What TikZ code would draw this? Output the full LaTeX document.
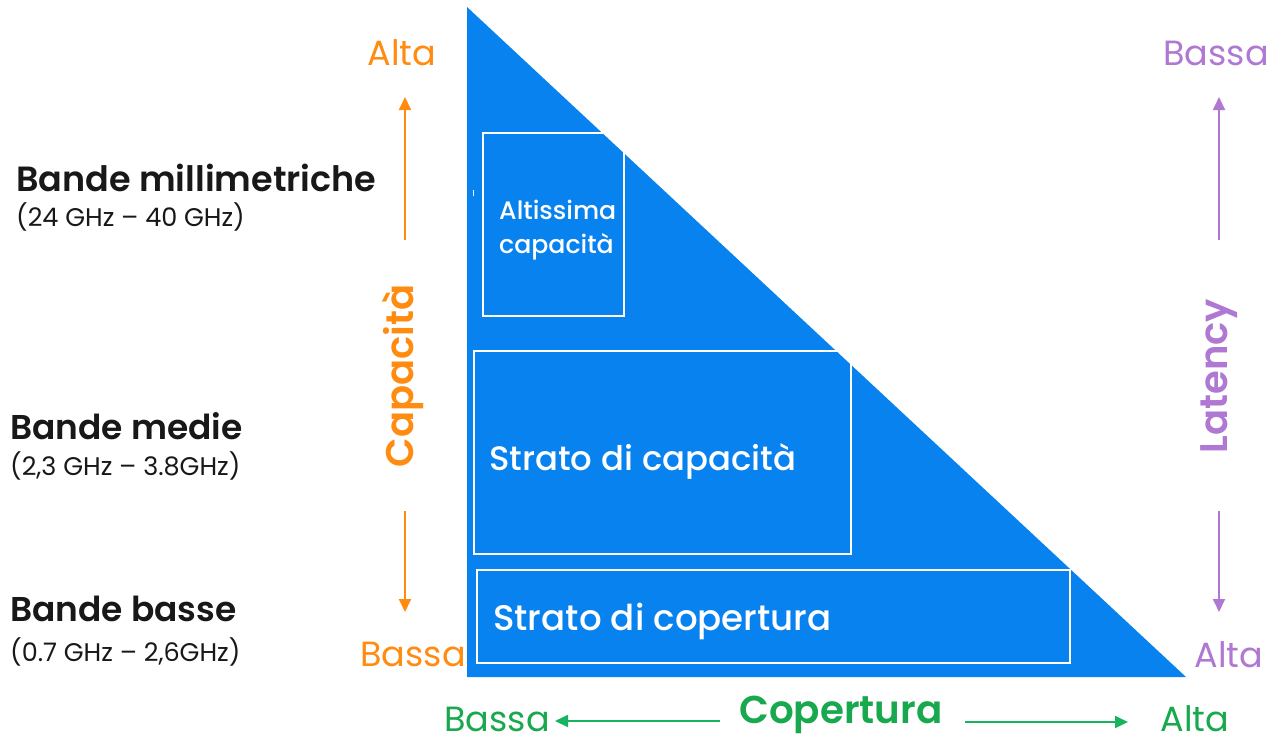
\documentclass[tikz,border=0pt]{standalone}
\usepackage{fontspec}
\setmainfont{Poppins}[BoldFont={Poppins SemiBold}]
\newfontfamily\medfont{Poppins Medium}
\usetikzlibrary{arrows.meta}
\definecolor{ebl}{HTML}{0782EF}
\definecolor{eor}{HTML}{FF8C10}
\definecolor{epu}{HTML}{AF78D2}
\definecolor{egr}{HTML}{16B45E}
\definecolor{egrd}{HTML}{18A84E}
\definecolor{etx}{HTML}{181818}
\tikzset{
  layer/.style={draw=white, line width=1.3pt},
  axarrow/.style={line width=1.8pt, -{Triangle[length=13pt,width=12pt]}},
  lbl/.style={inner sep=0pt, font=\fontsize{35}{40}\selectfont},
  axtitle/.style={inner sep=0pt, font=\fontsize{38.5}{42}\selectfont\bfseries, rotate=90},
  bandname/.style={inner sep=0pt, anchor=west, text=etx, font=\fontsize{34.4}{38}\selectfont\bfseries},
  bandfreq/.style={inner sep=0pt, anchor=west, text=etx, font=\fontsize{25.5}{29}\selectfont},
  boxtext/.style={inner sep=0pt, anchor=west, text=white},
}
\begin{document}
\begin{tikzpicture}[x=1pt,y=-1pt]
\useasboundingbox[fill=white] (0,0) rectangle (1271,742);
% triangle
\fill[ebl] (467,7) coordinate (top) -- (467,677) coordinate (bl) -- (1186,677) coordinate (br) -- cycle;
% layers
\draw[layer] (483,133) rectangle (624,316);
\draw[layer] (474,351) rectangle (851,554);
\draw[layer] (477,570) rectangle (1070,663);
\draw[white, line width=1.5pt] (473.5,190) -- (473.5,196);
\node[inner sep=0pt, anchor=west, text=white, align=left, font=\fontsize{25.2}{34}\medfont] (alt) at (499,230) {Altissima\\capacità};
\node[boxtext, font=\fontsize{33.9}{38}\medfont] (cap) at (489,461) {Strato di capacità};
\node[boxtext, font=\fontsize{35.6}{40}\medfont] (cop) at (493,621) {Strato di copertura};
% left labels
\node[bandname, font=\fontsize{35}{38}\selectfont\bfseries] (b1) at (16,178) {Bande millimetriche};
\node[bandfreq] (f1) at (16,217) {(24 GHz – 40 GHz)};
\node[bandname] (b2) at (10,426) {Bande medie};
\node[bandfreq] (f2) at (10,466) {(2,3 GHz – 3.8GHz)};
\node[bandname] (b3) at (10,609) {Bande basse};
\node[bandfreq] (f3) at (10,652) {(0.7 GHz – 2,6GHz)};
% capacity axis
\node[lbl, text=eor] (calta) at (402,53) {Alta};
\node[lbl, text=eor] (cbassa) at (413,654) {Bassa};
\node[axtitle, text=eor] (ctitle) at (403,376) {Capacità};
\coordinate (cu0) at (405,240); \coordinate (cu1) at (405,97);
\coordinate (cd0) at (405,511); \coordinate (cd1) at (405,612);
\draw[axarrow, eor] (cu0) -- (cu1);
\draw[axarrow, eor] (cd0) -- (cd1);
% latency axis
\node[lbl, text=epu] (lbassa) at (1216,53) {Bassa};
\node[lbl, text=epu] (lalta) at (1229,655) {Alta};
\node[axtitle, text=epu] (ltitle) at (1219,376) {Latency};
\coordinate (lu0) at (1219,240); \coordinate (lu1) at (1219,97);
\coordinate (ld0) at (1219,511); \coordinate (ld1) at (1219,612);
\draw[axarrow, epu] (lu0) -- (lu1);
\draw[axarrow, epu] (ld0) -- (ld1);
% coverage axis
\node[lbl, text=egrd] (gbassa) at (497,719) {Bassa};
\node[lbl, text=egrd] (galta) at (1195,719) {Alta};
\node[inner sep=0pt, text=egrd, font=\fontsize{38.8}{42}\selectfont\bfseries] (gtitle) at (841,715) {Copertura};
\coordinate (gl0) at (720,721); \coordinate (gl1) at (555,721);
\coordinate (gr0) at (965,722); \coordinate (gr1) at (1128,722);
\draw[axarrow, egr] (gl0) -- (gl1);
\draw[axarrow, egr] (gr0) -- (gr1);
\end{tikzpicture}
\end{document}
